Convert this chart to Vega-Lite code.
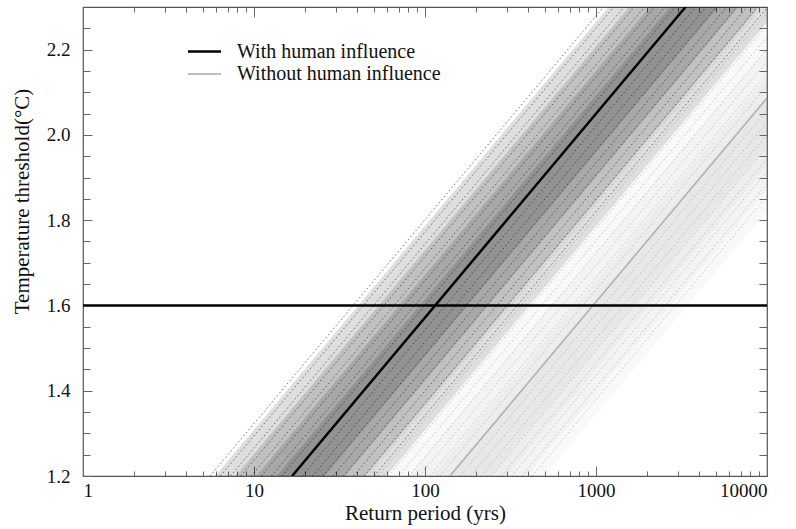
{
  "$schema": "https://vega.github.io/schema/vega-lite/v6.json",
  "width": 684,
  "height": 469,
  "autosize": {"type": "none"},
  "padding": {"left": 83, "top": 7, "right": 29, "bottom": 53},
  "datasets": {
    "center": [
      {"series": "With human influence", "y": 1.2, "x": 16.7},
      {"series": "With human influence", "y": 2.3, "x": 3340},
      {"series": "Without human influence", "y": 1.2, "x": 140},
      {"series": "Without human influence", "y": 2.3, "x": 28000}
    ],
    "bands": [
      {"fam": "with", "band": 1, "y": 1.2, "lo": 5.93, "hi": 59.26},
      {"fam": "with", "band": 1, "y": 2.3, "lo": 1185, "hi": 11852},
      {"fam": "with", "band": 2, "y": 1.2, "lo": 7.81, "hi": 44.96},
      {"fam": "with", "band": 2, "y": 2.3, "lo": 1562, "hi": 8992},
      {"fam": "with", "band": 3, "y": 1.2, "lo": 10.3, "hi": 34.11},
      {"fam": "with", "band": 3, "y": 2.3, "lo": 2059, "hi": 6822},
      {"fam": "with", "band": 4, "y": 1.2, "lo": 13.58, "hi": 25.86},
      {"fam": "with", "band": 4, "y": 2.3, "lo": 2716, "hi": 5172},
      {"fam": "without", "band": 1, "y": 1.2, "lo": 58.35, "hi": 500.0},
      {"fam": "without", "band": 1, "y": 2.3, "lo": 11670, "hi": 100000},
      {"fam": "without", "band": 2, "y": 1.2, "lo": 80.0, "hi": 394.5},
      {"fam": "without", "band": 2, "y": 2.3, "lo": 16000, "hi": 78900},
      {"fam": "without", "band": 3, "y": 1.2, "lo": 110.0, "hi": 300.0},
      {"fam": "without", "band": 3, "y": 2.3, "lo": 22000, "hi": 60000},
      {"fam": "without", "band": 4, "y": 1.2, "lo": 135.0, "hi": 240.0},
      {"fam": "without", "band": 4, "y": 2.3, "lo": 27000, "hi": 48000}
    ],
    "lines": [
      {"fam": "with", "id": 1, "y": 1.2, "x": 5.53}, {"fam": "with", "id": 1, "y": 2.3, "x": 1106},
      {"fam": "with", "id": 2, "y": 1.2, "x": 6.35}, {"fam": "with", "id": 2, "y": 2.3, "x": 1270},
      {"fam": "with", "id": 3, "y": 1.2, "x": 7.29}, {"fam": "with", "id": 3, "y": 2.3, "x": 1458},
      {"fam": "with", "id": 4, "y": 1.2, "x": 8.37}, {"fam": "with", "id": 4, "y": 2.3, "x": 1674},
      {"fam": "with", "id": 5, "y": 1.2, "x": 9.61}, {"fam": "with", "id": 5, "y": 2.3, "x": 1922},
      {"fam": "with", "id": 6, "y": 1.2, "x": 11.03}, {"fam": "with", "id": 6, "y": 2.3, "x": 2206},
      {"fam": "with", "id": 7, "y": 1.2, "x": 12.67}, {"fam": "with", "id": 7, "y": 2.3, "x": 2534},
      {"fam": "with", "id": 8, "y": 1.2, "x": 14.55}, {"fam": "with", "id": 8, "y": 2.3, "x": 2910},
      {"fam": "with", "id": 9, "y": 1.2, "x": 19.17}, {"fam": "with", "id": 9, "y": 2.3, "x": 3834},
      {"fam": "with", "id": 10, "y": 1.2, "x": 22.01}, {"fam": "with", "id": 10, "y": 2.3, "x": 4402},
      {"fam": "with", "id": 11, "y": 1.2, "x": 25.28}, {"fam": "with", "id": 11, "y": 2.3, "x": 5056},
      {"fam": "with", "id": 12, "y": 1.2, "x": 29.02}, {"fam": "with", "id": 12, "y": 2.3, "x": 5804},
      {"fam": "with", "id": 13, "y": 1.2, "x": 33.32}, {"fam": "with", "id": 13, "y": 2.3, "x": 6664},
      {"fam": "with", "id": 14, "y": 1.2, "x": 38.26}, {"fam": "with", "id": 14, "y": 2.3, "x": 7652},
      {"fam": "with", "id": 15, "y": 1.2, "x": 43.92}, {"fam": "with", "id": 15, "y": 2.3, "x": 8784},
      {"fam": "with", "id": 16, "y": 1.2, "x": 50.43}, {"fam": "with", "id": 16, "y": 2.3, "x": 10086},
      {"fam": "without", "id": 21, "y": 1.2, "x": 46.36}, {"fam": "without", "id": 21, "y": 2.3, "x": 9272},
      {"fam": "without", "id": 22, "y": 1.2, "x": 53.23}, {"fam": "without", "id": 22, "y": 2.3, "x": 10646},
      {"fam": "without", "id": 23, "y": 1.2, "x": 61.11}, {"fam": "without", "id": 23, "y": 2.3, "x": 12222},
      {"fam": "without", "id": 24, "y": 1.2, "x": 70.18}, {"fam": "without", "id": 24, "y": 2.3, "x": 14036},
      {"fam": "without", "id": 25, "y": 1.2, "x": 80.55}, {"fam": "without", "id": 25, "y": 2.3, "x": 16110},
      {"fam": "without", "id": 26, "y": 1.2, "x": 92.47}, {"fam": "without", "id": 26, "y": 2.3, "x": 18494},
      {"fam": "without", "id": 27, "y": 1.2, "x": 106.2}, {"fam": "without", "id": 27, "y": 2.3, "x": 21240},
      {"fam": "without", "id": 28, "y": 1.2, "x": 121.95}, {"fam": "without", "id": 28, "y": 2.3, "x": 24390},
      {"fam": "without", "id": 29, "y": 1.2, "x": 160.7}, {"fam": "without", "id": 29, "y": 2.3, "x": 32140},
      {"fam": "without", "id": 30, "y": 1.2, "x": 184.5}, {"fam": "without", "id": 30, "y": 2.3, "x": 36900},
      {"fam": "without", "id": 31, "y": 1.2, "x": 212.0}, {"fam": "without", "id": 31, "y": 2.3, "x": 42400},
      {"fam": "without", "id": 32, "y": 1.2, "x": 243.3}, {"fam": "without", "id": 32, "y": 2.3, "x": 48660},
      {"fam": "without", "id": 33, "y": 1.2, "x": 279.3}, {"fam": "without", "id": 33, "y": 2.3, "x": 55860},
      {"fam": "without", "id": 34, "y": 1.2, "x": 320.7}, {"fam": "without", "id": 34, "y": 2.3, "x": 64140},
      {"fam": "without", "id": 35, "y": 1.2, "x": 368.2}, {"fam": "without", "id": 35, "y": 2.3, "x": 73640},
      {"fam": "without", "id": 36, "y": 1.2, "x": 422.8}, {"fam": "without", "id": 36, "y": 2.3, "x": 84560}
    ],
    "threshold": [{"threshold": 1.6}]
  },
  "resolve": {"axis": {"x": "independent", "y": "independent"}},
  "layer": [
    {
      "data": {"name": "bands"},
      "transform": [{"filter": "datum.fam === 'without'"}],
      "mark": {"type": "area", "orient": "horizontal", "color": "#777777", "opacity": 0.045, "clip": true},
      "encoding": {
        "y": {"field": "y", "type": "quantitative", "scale": {"domain": [1.2, 2.3], "nice": false, "zero": false}, "axis": null},
        "x": {"field": "lo", "type": "quantitative", "scale": {"type": "log", "domain": [1, 10000], "nice": false}, "axis": null},
        "x2": {"field": "hi"},
        "detail": {"field": "band"}
      }
    },
    {
      "data": {"name": "bands"},
      "transform": [{"filter": "datum.fam === 'with'"}],
      "mark": {"type": "area", "orient": "horizontal", "color": "#000000", "opacity": 0.13, "clip": true},
      "encoding": {
        "y": {"field": "y", "type": "quantitative", "scale": {"domain": [1.2, 2.3], "nice": false, "zero": false}, "axis": null},
        "x": {"field": "lo", "type": "quantitative", "scale": {"type": "log", "domain": [1, 10000], "nice": false}, "axis": null},
        "x2": {"field": "hi"},
        "detail": {"field": "band"}
      }
    },
    {
      "data": {"name": "lines"},
      "transform": [{"filter": "datum.fam === 'without'"}],
      "mark": {"type": "line", "color": "#8a8a8a", "strokeWidth": 1, "strokeDash": [1.5, 2.5], "opacity": 0.5, "clip": true},
      "encoding": {
        "y": {"field": "y", "type": "quantitative", "scale": {"domain": [1.2, 2.3], "nice": false, "zero": false}, "axis": null},
        "x": {"field": "x", "type": "quantitative", "scale": {"type": "log", "domain": [1, 10000], "nice": false}, "axis": null},
        "detail": {"field": "id"}
      }
    },
    {
      "data": {"name": "lines"},
      "transform": [{"filter": "datum.fam === 'with'"}],
      "mark": {"type": "line", "color": "#000000", "strokeWidth": 1, "strokeDash": [1.5, 2.5], "opacity": 0.55, "clip": true},
      "encoding": {
        "y": {"field": "y", "type": "quantitative", "scale": {"domain": [1.2, 2.3], "nice": false, "zero": false}, "axis": null},
        "x": {"field": "x", "type": "quantitative", "scale": {"type": "log", "domain": [1, 10000], "nice": false}, "axis": null},
        "detail": {"field": "id"}
      }
    },
    {
      "data": {"name": "center"},
      "mark": {"type": "line", "clip": true},
      "encoding": {
        "y": {"field": "y", "type": "quantitative", "scale": {"domain": [1.2, 2.3], "nice": false, "zero": false}, "axis": null},
        "x": {"field": "x", "type": "quantitative", "scale": {"type": "log", "domain": [1, 10000], "nice": false}, "axis": null},
        "color": {"field": "series", "type": "nominal", "scale": {"domain": ["With human influence", "Without human influence"], "range": ["#000000", "#a8a8a8"]}, "legend": {"title": null, "orient": "none", "legendX": 109, "legendY": 32}},
        "strokeWidth": {"field": "series", "type": "nominal", "scale": {"domain": ["With human influence", "Without human influence"], "range": [2.5, 1.3]}, "legend": {"title": null, "orient": "none", "legendX": 109, "legendY": 32}}
      }
    },
    {
      "data": {"name": "threshold"},
      "mark": {"type": "rule", "color": "#000000", "strokeWidth": 2.5},
      "encoding": {
        "y": {"field": "threshold", "type": "quantitative", "scale": {"domain": [1.2, 2.3], "nice": false, "zero": false}, "axis": null}
      }
    },
    {
      "data": {"name": "center"},
      "mark": {"type": "point", "opacity": 0},
      "encoding": {
        "y": {"field": "y", "type": "quantitative", "scale": {"domain": [1.2, 2.3], "nice": false, "zero": false}, "axis": null},
        "x": {"field": "x", "type": "quantitative", "scale": {"type": "log", "domain": [1, 10000], "nice": false},
          "axis": {"orient": "bottom", "values": [1, 10, 100, 1000, 10000], "format": "d", "offset": -10, "tickSize": 10, "labelPadding": 5, "title": "Return period (yrs)", "titlePadding": 2}}
      }
    },
    {
      "data": {"name": "center"},
      "mark": {"type": "point", "opacity": 0},
      "encoding": {
        "y": {"field": "y", "type": "quantitative", "scale": {"domain": [1.2, 2.3], "nice": false, "zero": false}, "axis": null},
        "x": {"field": "x", "type": "quantitative", "scale": {"type": "log", "domain": [1, 10000], "nice": false},
          "axis": {"orient": "bottom", "values": [2, 3, 4, 5, 6, 7, 8, 9, 20, 30, 40, 50, 60, 70, 80, 90, 200, 300, 400, 500, 600, 700, 800, 900, 2000, 3000, 4000, 5000, 6000, 7000, 8000, 9000], "labels": false, "offset": -5, "tickSize": 5, "title": null}}
      }
    },
    {
      "data": {"name": "center"},
      "mark": {"type": "point", "opacity": 0},
      "encoding": {
        "y": {"field": "y", "type": "quantitative", "scale": {"domain": [1.2, 2.3], "nice": false, "zero": false}, "axis": null},
        "x": {"field": "x", "type": "quantitative", "scale": {"type": "log", "domain": [1, 10000], "nice": false},
          "axis": {"orient": "top", "values": [1, 10, 100, 1000, 10000], "labels": false, "offset": -10, "tickSize": 10, "title": null}}
      }
    },
    {
      "data": {"name": "center"},
      "mark": {"type": "point", "opacity": 0},
      "encoding": {
        "y": {"field": "y", "type": "quantitative", "scale": {"domain": [1.2, 2.3], "nice": false, "zero": false}, "axis": null},
        "x": {"field": "x", "type": "quantitative", "scale": {"type": "log", "domain": [1, 10000], "nice": false},
          "axis": {"orient": "top", "values": [2, 3, 4, 5, 6, 7, 8, 9, 20, 30, 40, 50, 60, 70, 80, 90, 200, 300, 400, 500, 600, 700, 800, 900, 2000, 3000, 4000, 5000, 6000, 7000, 8000, 9000], "labels": false, "offset": -5, "tickSize": 5, "title": null}}
      }
    },
    {
      "data": {"name": "center"},
      "mark": {"type": "point", "opacity": 0},
      "encoding": {
        "x": {"field": "x", "type": "quantitative", "scale": {"type": "log", "domain": [1, 10000], "nice": false}, "axis": null},
        "y": {"field": "y", "type": "quantitative", "scale": {"domain": [1.2, 2.3], "nice": false, "zero": false},
          "axis": {"orient": "left", "values": [1.2, 1.4, 1.6, 1.8, 2.0, 2.2], "format": ".1f", "offset": -9, "tickSize": 9, "labelPadding": 13, "title": "Temperature threshold(\u00b0C)", "titleAngle": 270, "titleX": -70, "titleY": 194, "titleAlign": "center", "titleBaseline": "middle"}}
      }
    },
    {
      "data": {"name": "center"},
      "mark": {"type": "point", "opacity": 0},
      "encoding": {
        "x": {"field": "x", "type": "quantitative", "scale": {"type": "log", "domain": [1, 10000], "nice": false}, "axis": null},
        "y": {"field": "y", "type": "quantitative", "scale": {"domain": [1.2, 2.3], "nice": false, "zero": false},
          "axis": {"orient": "left", "values": [1.25, 1.3, 1.35, 1.45, 1.5, 1.55, 1.65, 1.7, 1.75, 1.85, 1.9, 1.95, 2.05, 2.1, 2.15, 2.25], "labels": false, "offset": -7, "tickSize": 7, "title": null}}
      }
    },
    {
      "data": {"name": "center"},
      "mark": {"type": "point", "opacity": 0},
      "encoding": {
        "x": {"field": "x", "type": "quantitative", "scale": {"type": "log", "domain": [1, 10000], "nice": false}, "axis": null},
        "y": {"field": "y", "type": "quantitative", "scale": {"domain": [1.2, 2.3], "nice": false, "zero": false},
          "axis": {"orient": "right", "values": [1.25, 1.3, 1.35, 1.4, 1.45, 1.5, 1.55, 1.6, 1.65, 1.7, 1.75, 1.8, 1.85, 1.9, 1.95, 2.0, 2.05, 2.1, 2.15, 2.2, 2.25], "labels": false, "offset": -8, "tickSize": 8, "title": null}}
      }
    }
  ],
  "config": {
    "view": {"stroke": "#555555", "strokeWidth": 1.2},
    "axis": {
      "domain": false,
      "grid": false,
      "ticks": true,
      "tickColor": "#666666",
      "tickWidth": 1,
      "labelFont": "Liberation Serif",
      "titleFont": "Liberation Serif",
      "labelFontSize": 19,
      "titleFontSize": 21,
      "titleFontWeight": "normal",
      "labelColor": "#111111",
      "titleColor": "#111111"
    },
    "legend": {
      "labelFont": "Liberation Serif",
      "labelFontSize": 20,
      "labelColor": "#111111",
      "labelLimit": 400,
      "symbolType": "M-1.5,0H1.5",
      "symbolSize": 484,
      "labelOffset": 20,
      "rowPadding": 0,
      "padding": 0
    }
  }
}
